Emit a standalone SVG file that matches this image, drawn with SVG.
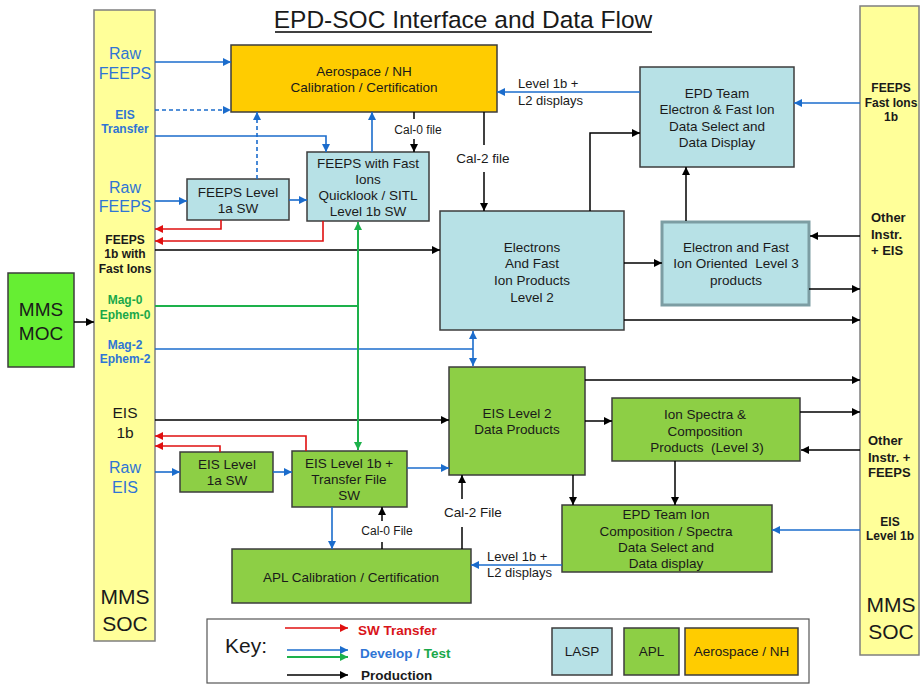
<svg xmlns="http://www.w3.org/2000/svg" width="921" height="684" viewBox="0 0 921 684">
<defs>
<style>
text{font-family:"Liberation Sans",Arial,sans-serif;fill:#1a1a1a}
.t{font-size:13.5px;text-anchor:middle}
.c{text-anchor:middle}
.b{font-weight:bold}
.box{stroke:#3c3c3c;stroke-width:1.5}
.lasp{fill:#b7e1e6}
.apl{fill:#8dcf45}
.aero{fill:#ffcc00}
.soc{fill:#ffff99;stroke:#7f7f7f;stroke-width:1.5}
.k{fill:none;stroke:#000;stroke-width:1.5}
.bl{fill:none;stroke:#1b6ccc;stroke-width:1.6}
.rd{fill:none;stroke:#e01010;stroke-width:1.6}
.gr{fill:none;stroke:#1db14b;stroke-width:2}
.bt{fill:#2f75d5}
.gt{fill:#1aa84a}
.rt{fill:#d9141a}
</style>
<marker id="ak" viewBox="0 0 10 10" refX="10" refY="5" markerWidth="9" markerHeight="8" orient="auto-start-reverse" markerUnits="userSpaceOnUse"><path d="M0,0L10,5L0,10z" fill="#000"/></marker>
<marker id="ab" viewBox="0 0 10 10" refX="10" refY="5" markerWidth="9" markerHeight="8" orient="auto-start-reverse" markerUnits="userSpaceOnUse"><path d="M0,0L10,5L0,10z" fill="#1b6ccc"/></marker>
<marker id="ar" viewBox="0 0 10 10" refX="10" refY="5" markerWidth="9" markerHeight="8" orient="auto-start-reverse" markerUnits="userSpaceOnUse"><path d="M0,0L10,5L0,10z" fill="#e01010"/></marker>
<marker id="ag" viewBox="0 0 10 10" refX="10" refY="5" markerWidth="9" markerHeight="8" orient="auto-start-reverse" markerUnits="userSpaceOnUse"><path d="M0,0L10,5L0,10z" fill="#1db14b"/></marker>
</defs>
<rect width="921" height="684" fill="#fff"/>

<g id="title">
<text x="463" y="28" class="c" style="font-size:24.5px">EPD-SOC Interface and Data Flow</text>
<line x1="275" y1="32" x2="652" y2="32" stroke="#000" stroke-width="1.5"/>
</g>

<g id="soc-left">
<rect x="94" y="10" width="61" height="631" class="soc"/>
<text x="125" y="59" class="c bt" style="font-size:16px">Raw</text>
<text x="125" y="79" class="c bt" style="font-size:16px">FEEPS</text>
<text x="125" y="119" class="c b bt" style="font-size:12px">EIS</text>
<text x="125" y="133" class="c b bt" style="font-size:12px">Transfer</text>
<text x="125" y="193" class="c bt" style="font-size:16px">Raw</text>
<text x="125" y="212" class="c bt" style="font-size:16px">FEEPS</text>
<text x="125" y="244" class="c b" style="font-size:12px">FEEPS</text>
<text x="125" y="258" class="c b" style="font-size:12px">1b with</text>
<text x="125" y="273" class="c b" style="font-size:12px">Fast Ions</text>
<text x="125" y="304" class="c b gt" style="font-size:12px">Mag-0</text>
<text x="125" y="319" class="c b gt" style="font-size:12px">Ephem-0</text>
<text x="125" y="349" class="c b bt" style="font-size:12px">Mag-2</text>
<text x="125" y="363" class="c b bt" style="font-size:12px">Ephem-2</text>
<text x="125" y="418" class="c" style="font-size:15.5px">EIS</text>
<text x="125" y="438" class="c" style="font-size:15.5px">1b</text>
<text x="125" y="473" class="c bt" style="font-size:16px">Raw</text>
<text x="125" y="493" class="c bt" style="font-size:16px">EIS</text>
<text x="125" y="604" class="c" style="font-size:21px">MMS</text>
<text x="125" y="631" class="c" style="font-size:21px">SOC</text>
</g>

<g id="soc-right">
<rect x="860" y="6" width="59" height="649" class="soc"/>
<text x="891" y="92" class="c b" style="font-size:12px">FEEPS</text>
<text x="891" y="107" class="c b" style="font-size:12px">Fast Ions</text>
<text x="891" y="121" class="c b" style="font-size:12px">1b</text>
<text x="871" y="222" class="b" style="font-size:13px">Other</text>
<text x="871" y="239" class="b" style="font-size:13px">Instr.</text>
<text x="871" y="255" class="b" style="font-size:13px">+ EIS</text>
<text x="868" y="445" class="b" style="font-size:13px">Other</text>
<text x="868" y="462" class="b" style="font-size:13px">Instr. +</text>
<text x="868" y="477" class="b" style="font-size:13px">FEEPS</text>
<text x="890" y="526" class="c b" style="font-size:12px">EIS</text>
<text x="890" y="540" class="c b" style="font-size:12px">Level 1b</text>
<text x="891" y="612" class="c" style="font-size:21px">MMS</text>
<text x="891" y="639" class="c" style="font-size:21px">SOC</text>
</g>

<g id="mms-moc">
<rect x="8" y="273" width="66" height="94" fill="#66ee33" class="box"/>
<text x="41" y="316" class="c" style="font-size:19px">MMS</text>
<text x="41" y="340" class="c" style="font-size:19px">MOC</text>
</g>

<g id="aerospace-cal">
<rect x="231" y="45" width="266" height="67" class="box aero"/>
<text x="364" y="76" class="t">Aerospace / NH</text>
<text x="364" y="92" class="t">Calibration / Certification</text>
</g>

<g id="feeps-l1a">
<rect x="187" y="179" width="102" height="41" class="box lasp"/>
<text x="238" y="197" class="t">FEEPS Level</text>
<text x="238" y="213" class="t">1a SW</text>
</g>

<g id="feeps-fast-ions">
<rect x="307" y="152" width="122" height="69" class="box lasp"/>
<text x="368" y="168" class="t">FEEPS with Fast</text>
<text x="368" y="184" class="t">Ions</text>
<text x="368" y="200" class="t">Quicklook / SITL</text>
<text x="368" y="216" class="t">Level 1b SW</text>
</g>

<g id="epd-electron">
<rect x="640" y="67" width="154" height="100" class="box lasp"/>
<text x="717" y="98" class="t">EPD Team</text>
<text x="717" y="114" class="t">Electron &amp; Fast Ion</text>
<text x="717" y="131" class="t">Data Select and</text>
<text x="717" y="147" class="t">Data Display</text>
</g>

<g id="electrons-l2">
<rect x="440" y="211" width="184" height="119" class="box lasp"/>
<text x="532" y="252" class="t">Electrons</text>
<text x="532" y="268" class="t">And Fast</text>
<text x="532" y="285" class="t">Ion Products</text>
<text x="532" y="302" class="t">Level 2</text>
</g>

<g id="electron-l3">
<rect x="662" y="222" width="147" height="83" fill="#b7e1e6" stroke="#7c9da3" stroke-width="3"/>
<text x="736" y="252" class="t">Electron and Fast</text>
<text x="736" y="268" class="t" xml:space="preserve">Ion Oriented  Level 3</text>
<text x="736" y="285" class="t">products</text>
</g>

<g id="eis-l2">
<rect x="449" y="367" width="136" height="108" class="box apl"/>
<text x="517" y="418" class="t">EIS Level 2</text>
<text x="517" y="434" class="t">Data Products</text>
</g>

<g id="ion-spectra">
<rect x="612" y="398" width="188" height="63" class="box apl"/>
<text x="705" y="419" class="t">Ion Spectra &amp;</text>
<text x="705" y="436" class="t">Composition</text>
<text x="707" y="452" class="t" xml:space="preserve">Products  (Level 3)</text>
</g>

<g id="epd-ion">
<rect x="562" y="505" width="210" height="67" class="box apl"/>
<text x="666" y="519" class="t">EPD Team Ion</text>
<text x="666" y="536" class="t">Composition / Spectra</text>
<text x="666" y="552" class="t">Data Select and</text>
<text x="666" y="568" class="t">Data display</text>
</g>

<g id="apl-cal">
<rect x="232" y="549" width="239" height="54" class="box apl"/>
<text x="351" y="582" class="t">APL Calibration / Certification</text>
</g>

<g id="eis-l1a">
<rect x="180" y="452" width="93" height="40" class="box apl"/>
<text x="227" y="469" class="t">EIS Level</text>
<text x="227" y="485" class="t">1a SW</text>
</g>

<g id="eis-l1b">
<rect x="292" y="451" width="115" height="56" class="box apl"/>
<text x="349" y="468" class="t">EIS Level 1b +</text>
<text x="349" y="484" class="t">Transfer File</text>
<text x="349" y="500" class="t">SW</text>
</g>

<g id="connectors">
<!-- black production -->
<path class="k" d="M74,322H94" marker-end="url(#ak)"/>
<path class="k" d="M155,250H440" marker-end="url(#ak)"/>
<path class="k" d="M155,420H449" marker-end="url(#ak)"/>
<path class="k" d="M585,380H860" marker-end="url(#ak)"/>
<path class="k" d="M585,421H612" marker-end="url(#ak)"/>
<path class="k" d="M800,412H860" marker-end="url(#ak)"/>
<path class="k" d="M860,450H801" marker-end="url(#ak)"/>
<path class="k" d="M624,263H662" marker-end="url(#ak)"/>
<path class="k" d="M809,289H860" marker-end="url(#ak)"/>
<path class="k" d="M624,320H860" marker-end="url(#ak)"/>
<path class="k" d="M860,236H810" marker-end="url(#ak)"/>
<path class="k" d="M686,221V167" marker-end="url(#ak)"/>
<path class="k" d="M590,211V133H640" marker-end="url(#ak)"/>
<path class="k" d="M484,112V145"/>
<path class="k" d="M484,172V211" marker-end="url(#ak)"/>
<path class="k" d="M414,112V119"/>
<path class="k" d="M414,139V152" marker-end="url(#ak)"/>
<path class="k" d="M573,475V505" marker-end="url(#ak)"/>
<path class="k" d="M675,461V505" marker-end="url(#ak)"/>
<path class="k" d="M382,549V542"/>
<path class="k" d="M382,521V507" marker-end="url(#ak)"/>
<path class="k" d="M462,549V527"/>
<path class="k" d="M462,499V475" marker-end="url(#ak)"/>
<!-- blue develop/test -->
<path class="bl" d="M155,62H231" marker-end="url(#ab)"/>
<path class="bl" d="M155,110H231" stroke-dasharray="4,3" marker-end="url(#ab)"/>
<path class="bl" d="M155,136H326V152" marker-end="url(#ab)"/>
<path class="bl" d="M257,179V112" stroke-dasharray="4,3" marker-end="url(#ab)"/>
<path class="bl" d="M372,152V112" marker-end="url(#ab)"/>
<path class="bl" d="M155,201H187" marker-end="url(#ab)"/>
<path class="bl" d="M289,200H307" marker-end="url(#ab)"/>
<path class="bl" d="M155,349H473" stroke-width="3"/>
<path class="bl" d="M473,331V366" stroke-width="2.5" marker-start="url(#ab)" marker-end="url(#ab)"/>
<path class="bl" d="M155,472H180" marker-end="url(#ab)"/>
<path class="bl" d="M273,472H292" marker-end="url(#ab)"/>
<path class="bl" d="M407,468H449" marker-end="url(#ab)"/>
<path class="bl" d="M332,507V549" marker-end="url(#ab)"/>
<path class="bl" d="M562,565H471" marker-end="url(#ab)"/>
<path class="bl" d="M860,530H772" marker-end="url(#ab)"/>
<path class="bl" d="M860,103H794" marker-end="url(#ab)"/>
<path class="bl" d="M640,92H497" marker-end="url(#ab)"/>
<!-- red SW transfer -->
<path class="rd" d="M221,220V229H155" marker-end="url(#ar)"/>
<path class="rd" d="M323,221V241H155" marker-end="url(#ar)"/>
<path class="rd" d="M306,451V436H155" marker-end="url(#ar)"/>
<path class="rd" d="M220,452V446H155" marker-end="url(#ar)"/>
<!-- green -->
<path class="gr" d="M155,306H358"/>
<path class="gr" d="M358,222V450" marker-start="url(#ag)" marker-end="url(#ag)"/>
</g>

<g id="connector-labels">
<text x="418" y="134" class="c" style="font-size:12px">Cal-0 file</text>
<text x="483" y="163" class="c" style="font-size:13.5px">Cal-2 file</text>
<text x="518" y="88" style="font-size:13px">Level 1b +</text>
<text x="518" y="105" style="font-size:13px">L2 displays</text>
<text x="387" y="535" class="c" style="font-size:12px">Cal-0 File</text>
<text x="473" y="517" class="c" style="font-size:13.5px">Cal-2 File</text>
<text x="487" y="561" style="font-size:13px">Level 1b +</text>
<text x="487" y="577" style="font-size:13px">L2 displays</text>
</g>

<g id="key">
<rect x="207" y="619" width="602" height="64" fill="#fff" stroke="#555" stroke-width="1.2"/>
<text x="225" y="653" style="font-size:21px">Key:</text>
<path class="rd" d="M285,628H348" marker-end="url(#ar)"/>
<path class="bl" d="M287,650H348" marker-end="url(#ab)"/>
<path class="gr" d="M287,657H348" stroke-width="1.6" marker-end="url(#ag)"/>
<path class="k" d="M287,675H348" marker-end="url(#ak)"/>
<text x="358" y="635" class="b rt" style="font-size:13.5px">SW Transfer</text>
<text x="360" y="658" class="b" style="font-size:13.5px"><tspan class="bt">Develop /</tspan><tspan class="gt"> Test</tspan></text>
<text x="361" y="680" class="b" style="font-size:13.5px">Production</text>
<rect x="552" y="628" width="60" height="47" class="box lasp"/>
<text x="582" y="656" class="t">LASP</text>
<rect x="624" y="628" width="55" height="47" class="box apl"/>
<text x="651.5" y="656" class="t">APL</text>
<rect x="685" y="628" width="113" height="47" class="box aero"/>
<text x="741.5" y="656" class="t">Aerospace / NH</text>
</g>
</svg>
